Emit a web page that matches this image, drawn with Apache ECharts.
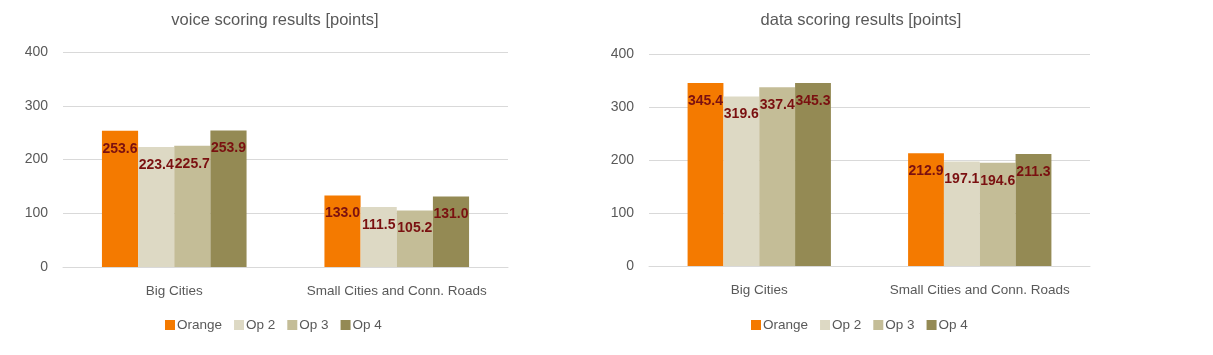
<!DOCTYPE html>
<html><head><meta charset="utf-8">
<script src="https://cdn.jsdelivr.net/npm/echarts@6/dist/echarts.min.js"></script>
<style>html,body{margin:0;padding:0;background:#fff}#c{width:1213px;height:355px}</style>
</head><body><div id="c"></div>
<script>
const categories = ['Big Cities', 'Small Cities and Conn. Roads'];
const seriesNames = ['Orange', 'Op 2', 'Op 3', 'Op 4'];
const voiceOrange = [253.6, 133.0];
const voiceOp2 = [223.4, 111.5];
const voiceOp3 = [225.7, 105.2];
const voiceOp4 = [253.9, 131.0];
const dataOrange = [345.4, 212.9];
const dataOp2 = [319.6, 197.1];
const dataOp3 = [337.4, 194.6];
const dataOp4 = [345.3, 211.3];
const titles = ['voice scoring results [points]', 'data scoring results [points]'];
const yTicks = [0, 100, 200, 300, 400];

const colors = ['#F47A00', '#DDD9C4', '#C4BD97', '#948A54'];
const FONT = 'Liberation Sans';
const voice = [voiceOrange, voiceOp2, voiceOp3, voiceOp4];
const data = [dataOrange, dataOp2, dataOp3, dataOp4];

const grids = [
  {left: 63, right: 705, top: 52, bottom: 88},
  {left: 649, right: 123, top: 54, bottom: 89}
];
function xAxis(i){return {type:'category', gridIndex:i, data:categories,
  axisLine:{lineStyle:{color:'#d9d9d9', width:1}}, axisTick:{show:false},
  axisLabel:{interval:0, color:'#595959', fontFamily:FONT, fontSize:13.5, margin:17}};}
function yAxis(i){return {type:'value', gridIndex:i, min:yTicks[0], max:yTicks[yTicks.length-1], interval:100,
  axisLine:{show:false}, axisTick:{show:false},
  splitLine:{lineStyle:{color:'#d9d9d9', width:1}},
  axisLabel:{color:'#595959', fontFamily:FONT, fontSize:14, margin:15}};}
const series = [];
[voice, data].forEach((set, gi) => {
  set.forEach((vals, si) => {
    series.push({type:'bar', name:seriesNames[si], xAxisIndex:gi, yAxisIndex:gi, data:vals,
      barGap:'0%', barCategoryGap:'35%', itemStyle:{color:colors[si]},
      label:{show:true, position:'insideTop', distance:11, color:'#7A1010', fontFamily:FONT,
        fontWeight:'bold', fontSize:14, formatter:p=>p.value.toFixed(1)}});
  });
});
const legendBase = {data:seriesNames, icon:'rect', itemWidth:10, itemHeight:10, itemGap:12,
  textStyle:{color:'#595959', fontFamily:FONT, fontSize:13.5, padding:[0,0,0,-3]}, top:313, selectedMode:false};
const chart = echarts.init(document.getElementById('c'));
chart.setOption({
  animation:false,
  title: titles.map((t,i)=>({text:t, left: i===0?270:856, top:7, textAlign:'center',
    textStyle:{color:'#595959', fontFamily:FONT, fontSize:16.5, fontWeight:'normal'}})),
  legend:[Object.assign({left:160}, legendBase), Object.assign({left:746}, legendBase)],
  grid: grids,
  xAxis:[xAxis(0), xAxis(1)],
  yAxis:[yAxis(0), yAxis(1)],
  series: series
});
</script></body></html>
